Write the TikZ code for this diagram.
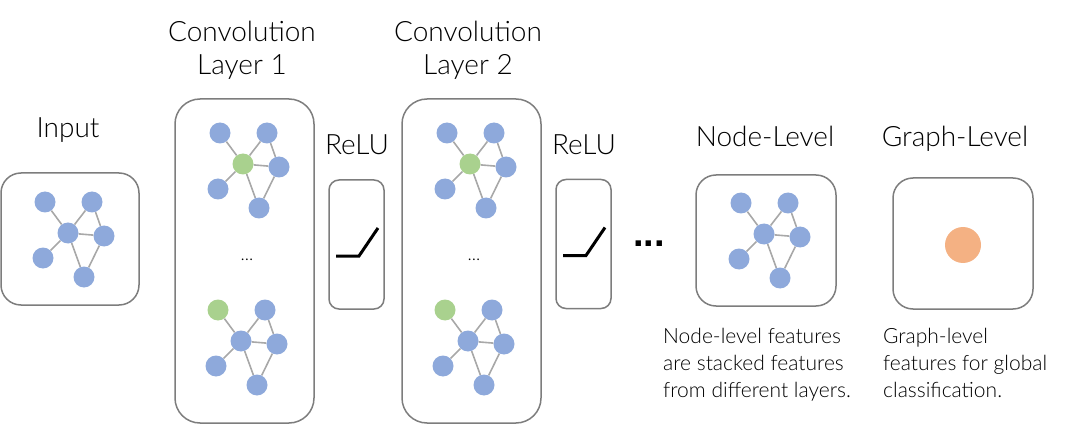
\documentclass[tikz,border=0pt]{standalone}
\usepackage{fontspec}
\setmainfont{Lato Light}[BoldFont={Lato Black}]
\newfontfamily\squaredots{Liberation Sans}
\usetikzlibrary{backgrounds,calc}
\definecolor{nblue}{RGB}{142,169,219}
\definecolor{ngreen}{RGB}{169,209,142}
\definecolor{norange}{RGB}{244,177,131}
\definecolor{edgegray}{RGB}{168,168,168}
\definecolor{boxgray}{RGB}{125,125,125}
\tikzset{
  gnode/.style={circle,fill=#1,minimum size=21pt,inner sep=0pt},
  gedge/.style={draw=edgegray,line width=1.6pt},
  panel/.style={draw=boxgray,line width=1.5pt,rounded corners=#1,inner sep=0pt},
  lab/.style={font=\fontsize{28}{34}\selectfont,anchor=base,inner sep=0pt},
  note/.style={font=\fontsize{21}{27}\selectfont,align=left,anchor=base west,inner sep=0pt},
  relucurve/.style={line width=3pt,line join=miter},
}
\newcommand\gcnGraph[5]{%
  \node[gnode=#4] (#1a) at ($(#2,#3)+(-23,-31)$) {};
  \node[gnode=nblue] (#1b) at ($(#2,#3)+(24,-31)$) {};
  \node[gnode=#5] (#1c) at (#2,#3) {};
  \node[gnode=nblue] (#1d) at ($(#2,#3)+(36,3)$) {};
  \node[gnode=nblue] (#1e) at ($(#2,#3)+(-25,25)$) {};
  \node[gnode=nblue] (#1f) at ($(#2,#3)+(16,44)$) {};
  \begin{pgfonlayer}{background}
    \draw[gedge] (#1a) -- (#1c) (#1b) -- (#1c) (#1b) -- (#1d) (#1c) -- (#1d)
                 (#1c) -- (#1e) (#1c) -- (#1f) (#1d) -- (#1f);
  \end{pgfonlayer}%
}
\begin{document}
\begin{tikzpicture}[x=1pt,y=-1pt]
\useasboundingbox (0,0) rectangle (1080,425);
% panels
\node[panel=20pt,minimum width=138pt,minimum height=132pt] (inbox) at (70,239) {};
\node[panel=25pt,minimum width=139pt,minimum height=324pt] (conv1) at (244.5,261) {};
\node[panel=10pt,minimum width=55pt,minimum height=129pt] (relu1) at (356.5,244.5) {};
\node[panel=25pt,minimum width=139pt,minimum height=324pt] (conv2) at (471.5,261) {};
\node[panel=10pt,minimum width=55pt,minimum height=129pt] (relu2) at (583.5,244) {};
\node[panel=20pt,minimum width=140pt,minimum height=131pt] (nodebox) at (766,240.5) {};
\node[panel=20pt,minimum width=140pt,minimum height=131pt] (graphbox) at (963,243.5) {};
% graphs
\gcnGraph{in}{68}{233}{nblue}{nblue}
\gcnGraph{ct}{243}{164}{nblue}{ngreen}
\gcnGraph{cb}{241}{341}{ngreen}{nblue}
\gcnGraph{dt}{470}{164}{nblue}{ngreen}
\gcnGraph{db}{468}{341}{ngreen}{nblue}
\gcnGraph{nl}{764}{234}{nblue}{nblue}
\node[circle,fill=norange,minimum size=36pt,inner sep=0pt] (gdot) at (963,245) {};
% relu curves
\coordinate (r1a) at ($(relu1.center)+(-20.5,11.5)$);
\coordinate (r1b) at ($(relu1.center)+(2.5,11.5)$);
\coordinate (r1c) at ($(relu1.center)+(21.5,-16.5)$);
\draw[relucurve] (r1a) -- (r1b) -- (r1c);
\coordinate (r2a) at ($(relu2.center)+(-20.5,11.5)$);
\coordinate (r2b) at ($(relu2.center)+(2.5,11.5)$);
\coordinate (r2c) at ($(relu2.center)+(21.5,-16.5)$);
\draw[relucurve] (r2a) -- (r2b) -- (r2c);
% labels
\node[lab] (tin) at (68,138) {Input};
\node[lab] (tc1a) at (242,42) {Convolution};
\node[lab] (tc1b) at (242,75) {Layer 1};
\node[lab] (tc2a) at (468,42) {Convolution};
\node[lab] (tc2b) at (468,75) {Layer 2};
\node[lab] (tr1) at (357,155) {ReLU};
\node[lab] (tr2) at (584,155) {ReLU};
\node[lab] (tnl) at (765,147) {Node-Level};
\node[lab] (tgl) at (955,147) {Graph-Level};
\node[font=\fontsize{18}{20}\selectfont,anchor=base,inner sep=0pt] (dots1) at (247,260) {...};
\node[font=\fontsize{18}{20}\selectfont,anchor=base,inner sep=0pt] (dots2) at (474,260) {...};
\node[font=\fontsize{38}{38}\squaredots\bfseries,anchor=base,inner sep=0pt] (bigdots) at (649,247) {...};
\node[note] (nnote) at (663,397) {Node-level features\\are stacked features\\from different layers.};
\node[note] (gnote) at (883,397) {Graph-level\\features for global\\classification.};
\end{tikzpicture}
\end{document}
